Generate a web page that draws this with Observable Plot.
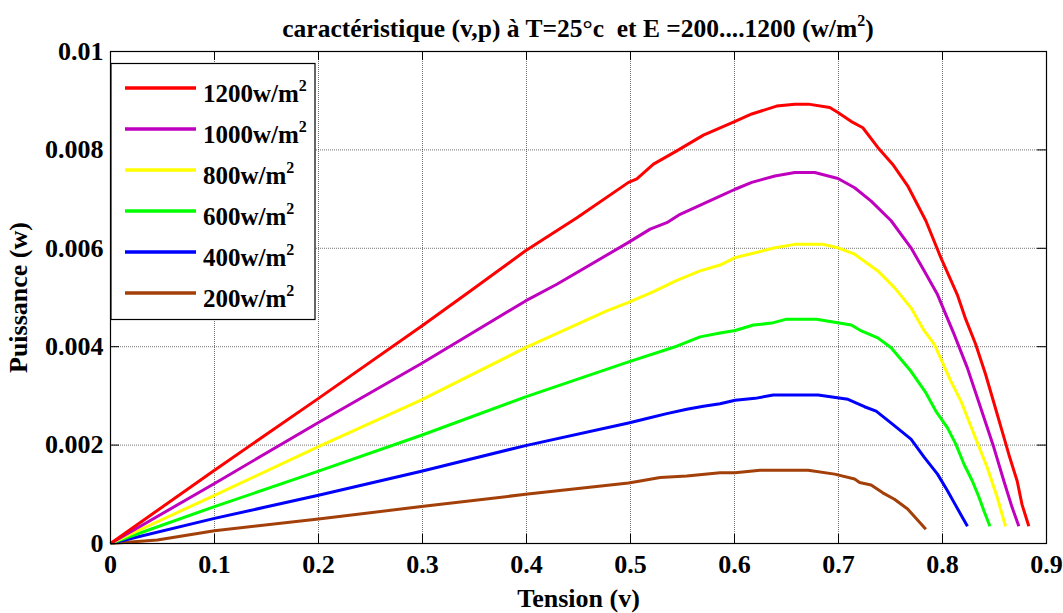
<!DOCTYPE html>
<html><head><meta charset="utf-8">
<script src="https://cdn.jsdelivr.net/npm/d3@7"></script>
<script src="https://cdn.jsdelivr.net/npm/@observablehq/plot@0.6"></script>
<style>
body{margin:0;background:#fff;}
#wrap{position:relative;width:1063px;height:613px;overflow:hidden;}
#wrap svg{position:absolute;left:0;top:0;}
</style></head><body><div id="wrap"></div>
<script>
// ---- data ----
const xTicks = [0,0.1,0.2,0.3,0.4,0.5,0.6,0.7,0.8,0.9];
const xTickLabels = ["0","0.1","0.2","0.3","0.4","0.5","0.6","0.7","0.8","0.9"];
const yTicks = [0,0.002,0.004,0.006,0.008,0.01];
const yTickLabels = ["0","0.002","0.004","0.006","0.008","0.01"];
const seriesNames = ["1200w/m","1000w/m","800w/m","600w/m","400w/m","200w/m"];
const seriesColors = ["#ff0000","#bf00bf","#ffff00","#00ff00","#0000ff","#a3400a"];
const titleText = "caractéristique (v,p) à T=25°c  et E =200....1200 (w/m";
const xLabel = "Tension (v)";
const yLabel = "Puissance (w)";

const v1200 = [0,0.1,0.2,0.3,0.3427,0.3991,0.4485,0.4981,0.5061,0.5221,0.5445,0.5701,0.6006,0.6166,0.6405,0.658,0.671,0.6916,0.6995,0.712,0.7234,0.7378,0.752,0.7665,0.784,0.7984,0.8142,0.8223,0.8319,0.8414,0.8494,0.8574,0.8638,0.8718,0.8765,0.883];
const p1200 = [0,0.00149,0.00295,0.00443,0.00508,0.00595,0.00662,0.00734,0.00741,0.00771,0.00798,0.0083,0.00858,0.00873,0.00889,0.00893,0.00893,0.00886,0.00876,0.00858,0.00845,0.00805,0.00771,0.00727,0.00656,0.00581,0.00506,0.00456,0.00405,0.00344,0.00286,0.00228,0.00181,0.00127,0.00079,0.00035];

const v1000 = [0,0.1,0.2,0.299,0.3991,0.4292,0.4981,0.5189,0.5349,0.5477,0.5861,0.6006,0.6166,0.6389,0.658,0.6772,0.6995,0.7155,0.7314,0.7506,0.7697,0.7825,0.7952,0.8112,0.8239,0.8367,0.8494,0.859,0.867,0.8734];
const p1000 = [0,0.00122,0.00246,0.00366,0.00493,0.00527,0.00612,0.00639,0.00652,0.00669,0.00706,0.0072,0.00734,0.00747,0.00754,0.00754,0.00742,0.00723,0.00696,0.00656,0.00601,0.00554,0.00506,0.00425,0.00357,0.00276,0.00195,0.00127,0.00073,0.00035];

const v800 = [0,0.1,0.2,0.299,0.3991,0.4771,0.4981,0.5221,0.5445,0.5669,0.5861,0.6006,0.6198,0.6389,0.658,0.6852,0.6995,0.7155,0.7378,0.7538,0.7697,0.7825,0.7921,0.808,0.8176,0.8303,0.8431,0.8526,0.8606];
const p800 = [0,0.00098,0.00197,0.00292,0.00398,0.00473,0.0049,0.00512,0.00535,0.00554,0.00566,0.00581,0.00591,0.00601,0.00608,0.00608,0.00601,0.00588,0.00554,0.0052,0.00479,0.00432,0.00405,0.0033,0.0029,0.00222,0.00154,0.00094,0.00035];

const v600 = [0,0.1,0.2,0.299,0.3991,0.4981,0.5445,0.5669,0.5861,0.6006,0.6182,0.6357,0.6501,0.6788,0.7123,0.722,0.7378,0.7506,0.7697,0.7841,0.7936,0.8048,0.8128,0.8207,0.8287,0.8351,0.8399,0.8456];
const p600 = [0,0.00075,0.00147,0.0022,0.00298,0.00369,0.00401,0.0042,0.00428,0.00433,0.00444,0.00448,0.00456,0.00456,0.00444,0.00432,0.00418,0.00398,0.0035,0.00306,0.00269,0.00235,0.00202,0.00161,0.00127,0.00094,0.00066,0.00035];

const v400 = [0,0.1,0.2,0.299,0.3991,0.4981,0.5157,0.5349,0.5541,0.5701,0.5861,0.6006,0.6198,0.6373,0.6804,0.7091,0.725,0.7362,0.7522,0.7697,0.7825,0.7952,0.8048,0.8128,0.8192,0.824];
const p400 = [0,0.00051,0.00098,0.00147,0.00199,0.00245,0.00254,0.00264,0.00273,0.00279,0.00284,0.00291,0.00295,0.00302,0.00302,0.00293,0.00278,0.00269,0.00242,0.00212,0.00175,0.00141,0.00107,0.00077,0.00053,0.00035];

const v200 = [0,0.045,0.1,0.2,0.299,0.3991,0.4981,0.5093,0.5285,0.5541,0.5861,0.6006,0.6246,0.6708,0.6963,0.7155,0.7203,0.7314,0.7426,0.7538,0.7665,0.784];
const p200 = [0,0.00007,0.00026,0.0005,0.00075,0.001,0.00123,0.00127,0.00134,0.00137,0.00144,0.00144,0.00149,0.00149,0.00141,0.00131,0.00124,0.00119,0.00103,0.0009,0.0007,0.00029];

const seriesV = [v1200,v1000,v800,v600,v400,v200];
const seriesP = [p1200,p1000,p800,p600,p400,p200];

// ---- layout ----
const W = 1063, H = 613, mL = 110, mR = 17, mT = 51, mB = 70;
const plotW = W - mL - mR, plotH = H - mT - mB;
const tickLen = 9;
const font = "'Liberation Serif','Times New Roman',serif";

const lineMarks = seriesNames.map((n, k) => {
  const rows = seriesV[k].map((v, i) => ({v, p: seriesP[k][i]}));
  return Plot.line(rows, {x: "v", y: "p", stroke: seriesColors[k], strokeWidth: 3, strokeLinejoin: "round", strokeLinecap: "butt"});
}).reverse();

const chart = Plot.plot({
  width: W, height: H,
  marginLeft: mL, marginRight: mR, marginTop: mT, marginBottom: mB,
  style: {fontFamily: font, fontWeight: "bold", color: "#000", background: "transparent"},
  x: {domain: [0, 0.9]},
  y: {domain: [0, 0.01]},
  marks: [
    Plot.gridX(xTicks.slice(1, -1), {stroke: "#000", strokeOpacity: 0.55, strokeDasharray: "1,1"}),
    Plot.gridY(yTicks.slice(1, -1), {stroke: "#000", strokeOpacity: 0.55, strokeDasharray: "1,1"}),
    Plot.tickX(xTicks, {x: d => d, insetTop: plotH - tickLen, stroke: "#000"}),
    Plot.tickX(xTicks, {x: d => d, insetBottom: plotH - tickLen, stroke: "#000"}),
    Plot.tickY(yTicks, {y: d => d, insetRight: plotW - tickLen, stroke: "#000"}),
    Plot.tickY(yTicks, {y: d => d, insetLeft: plotW - tickLen, stroke: "#000"}),
    Plot.axisX({ticks: xTicks, tickFormat: (d, i) => xTickLabels[i], tickSize: 0, tickPadding: 11, fontSize: 26,
      label: xLabel, labelAnchor: "center", labelArrow: "none", labelOffset: 63}),
    Plot.axisY({ticks: yTicks, tickFormat: (d, i) => yTickLabels[i], tickSize: 0, tickPadding: 7, fontSize: 26,
      label: yLabel, labelAnchor: "center", labelArrow: "none", labelOffset: 102}),
    ...lineMarks,
    Plot.frame({stroke: "#000", strokeWidth: 1.2})
  ]
});
const wrap = document.getElementById("wrap");
wrap.appendChild(chart);

// ---- overlay: title + legend ----
const ov = d3.select(wrap).append("svg")
  .attr("width", W).attr("height", H)
  .style("font-family", font).style("font-weight", "bold").style("pointer-events", "none");

const title = ov.append("text").attr("x", mL + plotW / 2).attr("y", 37)
  .attr("text-anchor", "middle").attr("font-size", 25.5).attr("fill", "#000")
  .style("white-space", "pre");
title.append("tspan").text(titleText);
title.append("tspan").attr("font-size", 16).attr("dy", -11).text("2");
title.append("tspan").attr("dy", 11).text(")");

const lg = ov.append("g").attr("transform", "translate(111,63.5)");
lg.append("rect").attr("width", 204).attr("height", 256).attr("fill", "#fff").attr("stroke", "#000").attr("stroke-width", 1.2);
seriesNames.forEach((n, i) => {
  const cy = 24.5 + i * 41;
  lg.append("line").attr("x1", 14).attr("x2", 85).attr("y1", cy).attr("y2", cy)
    .attr("stroke", seriesColors[i]).attr("stroke-width", 3.5);
  const t = lg.append("text").attr("x", 92).attr("y", cy + 14).attr("font-size", 25).attr("fill", "#000");
  t.append("tspan").text(n);
  t.append("tspan").attr("font-size", 16).attr("dy", -11).text("2");
});
</script></body></html>
